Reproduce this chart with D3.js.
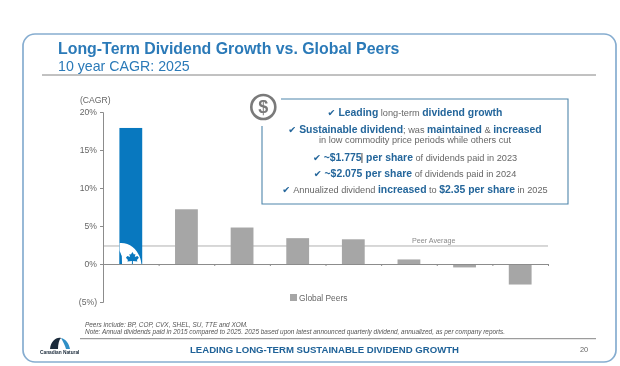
<!DOCTYPE html>
<html>
<head>
<meta charset="utf-8">
<script src="https://cdnjs.cloudflare.com/ajax/libs/d3/7.8.5/d3.min.js"></script>
<style>
html, body { margin: 0; padding: 0; background: #fff; }
svg { display: block; font-family: "Liberation Sans", Arial, sans-serif; filter: blur(0.3px); }
</style>
</head>
<body>
<div class="container"></div>
<script>
const WIDTH = 620;
const HEIGHT = 366;
const BLUE = "#0878bf";
const TITLEBLUE = "#2b7ab8";
const NAVY = "#24669b";
const GREY = "#a6a6a6";
const TEXTGREY = "#666";

// chart data
const categories = ["Canadian Natural", "Peer 1", "Peer 2", "Peer 3", "Peer 4", "Peer 5", "Peer 6", "Peer 7"];
const cagrValues = [17.9, 7.2, 4.8, 3.4, 3.25, 0.6, -0.45, -2.7];
const peerAverage = 2.37;
const yTicks = [-5, 0, 5, 10, 15, 20];
const yTickLabels = ["(5%)", "0%", "5%", "10%", "15%", "20%"];

const calloutLines = [
	[["Leading", 1], [" long-term ", 0], ["dividend growth", 1]],
	[["Sustainable dividend", 1], ["; was ", 0], ["maintained", 1], [" & ", 0], ["increased", 1]],
	[["in low commodity price periods while others cut", 0]],
	[["~$1.775", 1], ["|", 2], [" per share", 1], [" of dividends paid in 2023", 0]],
	[["~$2.075 per share", 1], [" of dividends paid in 2024", 0]],
	[["Annualized dividend ", 0], ["increased", 1], [" to ", 0], ["$2.35 per share", 1], [" in 2025", 0]]
];
const calloutChecks = [true, true, false, true, true, true];
const calloutBaselines = [116, 132.5, 143, 160.5, 177, 193];

var svg = d3.select(".container").append("svg")
	.attr("width", WIDTH)
	.attr("height", HEIGHT);

var addText = function(x, y, str, size, color, weight, anchor){
	return svg.append("text")
		.attr("x", x)
		.attr("y", y)
		.attr("font-size", size)
		.attr("fill", color)
		.attr("font-weight", weight || "normal")
		.attr("text-anchor", anchor || "start")
		.text(str);
};

// slide frame
svg.append("rect")
	.attr("x", 23).attr("y", 34)
	.attr("width", 593).attr("height", 328)
	.attr("rx", 12)
	.attr("fill", "#fff")
	.attr("stroke", "#86add0")
	.attr("stroke-width", 1.7);

// header
addText(58, 54, "Long-Term Dividend Growth vs. Global Peers", 15.9, TITLEBLUE, "bold");
addText(58, 71, "10 year CAGR: 2025", 14.2, TITLEBLUE);
svg.append("line").attr("x1", 42).attr("x2", 596).attr("y1", 75).attr("y2", 75)
	.attr("stroke", "#666").attr("stroke-width", 0.8);

// scales
var xScale = d3.scaleBand()
	.domain(categories)
	.range([103, 548])
	.paddingInner(0.59)
	.paddingOuter(0.295);

var xEdges = d3.scaleLinear()
	.domain([0, categories.length])
	.range([103, 548]);

var yScale = d3.scaleLinear()
	.domain([-5, 20])
	.range([302, 112]);

// peer average line sits behind the bars
svg.append("line")
	.attr("x1", 103).attr("x2", 548)
	.attr("y1", yScale(peerAverage)).attr("y2", yScale(peerAverage))
	.attr("stroke", "#a8a8a8").attr("stroke-width", 0.9);
addText(412, 243, "Peer Average", 7.2, "#8a8a8a");

// bars
svg.selectAll("rect.bar").data(cagrValues)
	.enter()
	.append("rect")
	.classed("bar", true)
	.attr("x", function(d, i){ return xScale(categories[i]); })
	.attr("y", function(d){ return yScale(Math.max(d, 0)); })
	.attr("width", xScale.bandwidth())
	.attr("height", function(d){ return Math.abs(yScale(d) - yScale(0)); })
	.attr("fill", function(d, i){ return i === 0 ? BLUE : GREY; });

// maple leaf badge at the foot of the first bar
var bx = xScale(categories[0]);
var by = yScale(0);
var clip = svg.append("clipPath").attr("id", "barClip");
clip.append("rect").attr("x", bx).attr("y", yScale(cagrValues[0])).attr("width", xScale.bandwidth()).attr("height", by - yScale(cagrValues[0]));
svg.append("path")
	.attr("clip-path", "url(#barClip)")
	.attr("d", "M" + bx + "," + (by - 21) + "C" + (bx + 12) + "," + (by - 22) + " " + (bx + 21) + "," + (by - 12) + " " + (bx + 22) + "," + by + "L" + (bx + 2) + "," + by + "C" + (bx + 2) + "," + (by - 6) + " " + (bx + 1) + "," + (by - 12) + " " + bx + "," + (by - 14) + "Z")
	.attr("fill", "#fff");
svg.append("path")
	.attr("clip-path", "url(#barClip)")
	.attr("d", "M" + bx + "," + (by - 13) + "L" + (bx + 2.4) + "," + (by - 8) + "L" + (bx + 2.6) + "," + by + "L" + bx + "," + by + "Z")
	.attr("fill", BLUE);
svg.append("path")
	.attr("transform", "translate(" + (bx + 13) + "," + (by - 6) + ")")
	.attr("d", "M0,-6L1.5,-3.4L3,-4L2.4,-1L5,-2L6.5,-0.2L4.5,2L5,3.4L0.5,3L0.5,6L-0.5,6L-0.5,3L-5,3.4L-4.5,2L-6.5,-0.2L-5,-2L-2.4,-1L-3,-4L-1.5,-3.4Z")
	.attr("fill", BLUE);

// axes
var yAxis = d3.axisLeft(yScale)
	.tickValues(yTicks)
	.tickSize(3)
	.tickPadding(3)
	.tickFormat(function(d, i){ return yTickLabels[i]; });

var yAxisGroup = svg.append("g")
	.attr("transform", "translate(103, 0)")
	.call(yAxis);
yAxisGroup.selectAll("text").attr("font-size", 8.6).attr("fill", TEXTGREY).attr("font-family", "inherit");
yAxisGroup.selectAll("path, line").attr("stroke", "#8c8c8c");

var xAxis = d3.axisBottom(xEdges)
	.tickValues(d3.range(1, categories.length + 1))
	.tickSize(2)
	.tickSizeOuter(0)
	.tickFormat("");

var xAxisGroup = svg.append("g")
	.attr("transform", "translate(0, " + yScale(0) + ")")
	.call(xAxis);
xAxisGroup.selectAll("path, line").attr("stroke", "#8c8c8c");

addText(80, 103, "(CAGR)", 8.6, TEXTGREY);

// legend
svg.append("rect").attr("x", 290).attr("y", 294).attr("width", 7).attr("height", 7).attr("fill", GREY);
addText(299, 301, "Global Peers", 8.4, TEXTGREY);

// callout box, broken at the top left corner around the icon
svg.append("path")
	.attr("d", "M281,99H568V204H262V126")
	.attr("fill", "none")
	.attr("stroke", "#4f86ab")
	.attr("stroke-width", 1.1);
svg.append("circle")
	.attr("cx", 263.3).attr("cy", 107).attr("r", 12)
	.attr("fill", "#fff")
	.attr("stroke", "#7a7a7a")
	.attr("stroke-width", 2.6);
addText(263.3, 113.3, "$", 18, "#7a7a7a", "bold", "middle");

calloutLines.forEach(function(runs, i){
	var line = svg.append("text")
		.attr("x", 415)
		.attr("y", calloutBaselines[i])
		.attr("text-anchor", "middle");
	if(calloutChecks[i]){
		line.append("tspan")
			.attr("font-size", 9.4)
			.attr("font-family", "DejaVu Sans")
			.attr("fill", NAVY)
			.text("\u2714 ");
	}
	runs.forEach(function(run){
		// kind 2 is the stray text cursor left in the original slide
		if(run[1] === 2){
			line.append("tspan")
				.attr("font-size", 11)
				.attr("fill", "#333")
				.attr("dx", -1.2)
				.text(run[0]);
			return;
		}
		line.append("tspan")
			.attr("font-size", run[1] ? 10.4 : 9.2)
			.attr("font-weight", run[1] ? "bold" : "normal")
			.attr("fill", run[1] ? NAVY : TEXTGREY)
			.attr("xml:space", "preserve")
			.text(run[0]);
	});
});

// footnotes
addText(85, 326.5, "Peers include: BP, COP, CVX, SHEL, SU, TTE and XOM.", 6.43, "#555").attr("font-style", "italic");
addText(85, 334, "Note: Annual dividends paid in 2015 compared to 2025. 2025 based upon latest announced quarterly dividend, annualized, as per company reports.", 6.43, "#555").attr("font-style", "italic");

// footer
svg.append("line").attr("x1", 80).attr("x2", 596).attr("y1", 338.7).attr("y2", 338.7)
	.attr("stroke", "#666").attr("stroke-width", 0.8);
addText(190, 353, "LEADING LONG-TERM SUSTAINABLE DIVIDEND GROWTH", 9.6, "#1f6298", "bold");
addText(580, 352, "20", 7.4, TEXTGREY);

// logo
svg.append("path").attr("d", "M50,349C51,341 56,337 61,338C59,340 58,344 58,349Z").attr("fill", "#1a2a3a");
svg.append("path").attr("d", "M61,338C66,339 69,344 70,349L66,349C65,345 63,342 61,338Z").attr("fill", "#2f8fc6");
addText(40, 354, "Canadian Natural", 4.8, "#1a2a3a", "bold");
</script>
</body>
</html>
